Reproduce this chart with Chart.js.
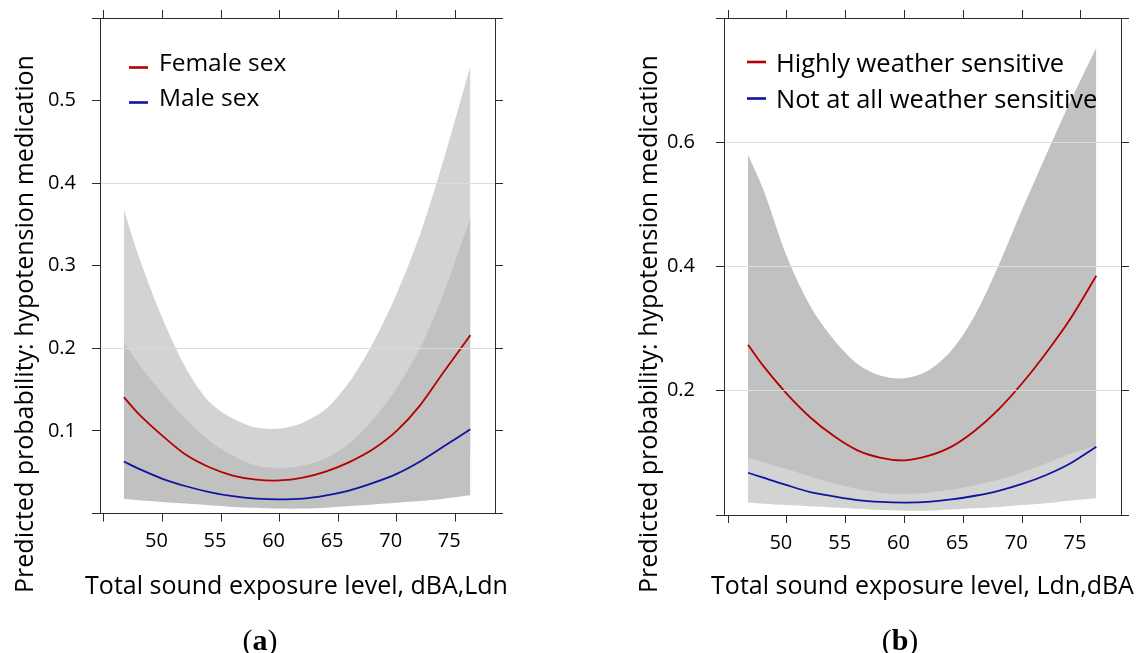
<!DOCTYPE html>
<html><head><meta charset="utf-8">
<script src="https://cdn.jsdelivr.net/npm/chart.js@4.4.1/dist/chart.umd.min.js"></script>
<style>
html,body{margin:0;padding:0;background:#fff;width:1144px;height:653px;overflow:hidden}
.panel{position:absolute;top:0;width:572px;height:653px}
#pa{left:0}#pb{left:572px}
canvas{display:block}
</style></head><body>
<div class="panel" id="pa"><canvas id="ca" width="572" height="653"></canvas></div>
<div class="panel" id="pb"><canvas id="cb" width="572" height="653"></canvas></div>
<script>
// ---- data ----
const exposure = [46.7,48,50,52,54,56,58,60,62,64,66,68,70,72,74,76.3];
const xTicks = [45,50,55,60,65,70,75];
const xTickLabels = ['', '50', '55', '60', '65', '70', '75'];

// panel (a)
const femaleFit   = [0.141,0.120,0.094,0.071,0.056,0.046,0.041,0.040,0.0435,0.051,0.0625,0.078,0.100,0.131,0.171,0.216];
const femaleUpper = [0.368,0.310,0.236,0.176,0.135,0.115,0.104,0.103,0.110,0.127,0.160,0.207,0.266,0.338,0.428,0.542];
const femaleLower = [0.050,0.045,0.038,0.031,0.026,0.022,0.019,0.018,0.019,0.021,0.025,0.030,0.037,0.046,0.057,0.072];
const maleFit     = [0.063,0.054,0.042,0.033,0.026,0.021,0.018,0.017,0.018,0.022,0.028,0.037,0.048,0.063,0.081,0.102];
const maleUpper   = [0.207,0.180,0.145,0.114,0.088,0.070,0.058,0.055,0.058,0.067,0.085,0.114,0.152,0.200,0.266,0.358];
const maleLower   = [0.018,0.016,0.014,0.012,0.010,0.008,0.007,0.006,0.006,0.007,0.009,0.011,0.013,0.015,0.018,0.022];
const yTicksA      = [0,0.1,0.2,0.3,0.4,0.5,0.6];
const yTickLabelsA = ['','0.1','0.2','0.3','0.4','0.5',''];
const yGridA       = [0.2,0.4];

// panel (b)
const highlyFit   = [0.274,0.240,0.195,0.157,0.127,0.104,0.092,0.088,0.095,0.110,0.136,0.170,0.212,0.260,0.313,0.385];
const highlyUpper = [0.580,0.524,0.416,0.336,0.282,0.243,0.224,0.220,0.232,0.265,0.322,0.402,0.492,0.578,0.662,0.752];
const highlyLower = [0.050,0.048,0.045,0.040,0.035,0.030,0.027,0.026,0.027,0.030,0.035,0.042,0.050,0.060,0.072,0.085];
const notFit      = [0.068,0.060,0.048,0.037,0.030,0.024,0.021,0.020,0.021,0.025,0.031,0.039,0.050,0.064,0.082,0.110];
const notUpper    = [0.092,0.085,0.074,0.062,0.051,0.042,0.036,0.034,0.036,0.041,0.048,0.057,0.069,0.083,0.098,0.112];
const notLower    = [0.020,0.018,0.016,0.014,0.012,0.010,0.008,0.007,0.007,0.009,0.011,0.013,0.016,0.019,0.023,0.027];
const yTicksB      = [0,0.2,0.4,0.6,0.8];
const yTickLabelsB = ['','0.2','0.4','0.6',''];
const yGridB       = [0.2,0.4,0.6];

// ---- styling ----
const RED = '#b40000', BLUE = '#10149e', LIGHT = '#d3d3d3', DARK = '#c1c1c1';
const AXIS = '#2b2b2b', GRID = '#dcdcdc';
const FONT = '"Open Sans", Lato, sans-serif';

const pts = arr => exposure.map((x, i) => ({x, y: arr[i]}));
function lineDs(label, arr, color) {
  return {label, data: pts(arr), borderColor: color, borderWidth: 1.8, pointRadius: 0, fill: false, tension: 0.3, order: 0};
}
function bandDs(label, arr, color, target, order) {
  return {label, data: pts(arr), borderColor: 'rgba(0,0,0,0)', borderWidth: 0, pointRadius: 0,
    backgroundColor: color, fill: target === null ? false : {target}, tension: 0.3, order};
}

const overlay = {
  id: 'overlay',
  afterDraw(chart, args, o) {
    const ctx = chart.ctx, ca = chart.chartArea;
    ctx.save();
    ctx.font = o.legendFont; ctx.textBaseline = 'alphabetic'; ctx.textAlign = 'left';
    o.legendItems.forEach((idx, i) => {
      const ds = chart.data.datasets[idx];
      const yb = o.legendY + i * o.legendGap;
      ctx.strokeStyle = ds.borderColor; ctx.lineWidth = 2.6;
      ctx.beginPath(); ctx.moveTo(ca.left + o.dashX, yb - o.dashRise); ctx.lineTo(ca.left + o.dashX + 19, yb - o.dashRise); ctx.stroke();
      ctx.fillStyle = '#000'; ctx.fillText(ds.label, ca.left + o.textX, yb);
    });
    ctx.font = o.titleFont; ctx.fillStyle = '#000'; ctx.textAlign = 'center';
    ctx.fillText(o.xTitle, (ca.left + ca.right) / 2 + o.xTitleShift, o.xTitleY);
    ctx.save(); ctx.translate(o.yTitleX, o.yTitleCY); ctx.rotate(-Math.PI / 2); ctx.fillText(o.yTitle, 0, 0); ctx.restore();
    const bold = 'bold ' + o.capSize + 'px "Liberation Serif", serif';
    const reg = o.capSize + 'px "Liberation Serif", serif';
    ctx.textAlign = 'left';
    ctx.font = reg; const wP = ctx.measureText('(').width;
    ctx.font = bold; const wL = ctx.measureText(o.caption).width;
    let cx = o.capX - (2 * wP + wL) / 2;
    ctx.font = reg; ctx.fillText('(', cx, o.capY); cx += wP;
    ctx.font = bold; ctx.fillText(o.caption, cx, o.capY); cx += wL;
    ctx.font = reg; ctx.fillText(')', cx, o.capY);
    ctx.restore();
  }
};

function noPadV(s){ s.paddingTop = 0; s.paddingBottom = 0; }
function noPadH(s){ s.paddingLeft = 0; s.paddingRight = 0; }
function makeScales(yMax, yTicks, yLabels, yGrid, sizes) {
  const tickFont = {family: FONT, size: 20};
  const border = {color: AXIS, width: 1, z: 2};
  const xBase = {type: 'linear', min: 44.66, max: 78.4,
    afterBuildTicks: s => { s.ticks = xTicks.map(v => ({value: v})); },
    grid: {drawOnChartArea: false, tickLength: 8, tickColor: AXIS, color: AXIS, lineWidth: 1},
    border};
  const yBase = {type: 'linear', min: 0, max: yMax,
    afterBuildTicks: s => { s.ticks = yTicks.map(v => ({value: v})); },
    border};
  return {
    x: Object.assign({}, xBase, {position: 'bottom',
      ticks: {font: tickFont, color: '#000', padding: 8, labelOffset: -6, maxRotation: 0, autoSkip: false, callback: (v, i) => xTickLabels[i]},
      afterFit: s => { s.height = sizes.bottom; noPadH(s); }}),
    xTop: Object.assign({}, xBase, {position: 'top', ticks: {display: false},
      afterFit: s => { s.height = sizes.top; noPadH(s); }}),
    y: Object.assign({}, yBase, {position: 'left',
      ticks: {font: tickFont, color: '#000', padding: sizes.yPad, autoSkip: false, callback: (v, i) => yLabels[i]},
      grid: {z: 1, drawOnChartArea: true, tickLength: 8, tickColor: AXIS, lineWidth: 1,
        color: c => (c.tick && yGrid.some(g => Math.abs(g - c.tick.value) < 1e-9)) ? GRID : 'rgba(0,0,0,0)'},
      afterFit: s => { s.width = sizes.left; noPadV(s); }}),
    yRight: Object.assign({}, yBase, {position: 'right', ticks: {display: false},
      grid: {drawOnChartArea: false, tickLength: 8, tickColor: AXIS, color: AXIS, lineWidth: 1},
      afterFit: s => { s.width = sizes.right; noPadV(s); }})
  };
}

function draw() {
  Chart.defaults.font.family = FONT;
  new Chart(document.getElementById('ca'), {
    type: 'line',
    data: {datasets: [
      lineDs('Female sex', femaleFit, RED), lineDs('Male sex', maleFit, BLUE),
      bandDs('Male sex CI upper', maleUpper, DARK, 3, 1), bandDs('Male sex CI lower', maleLower, DARK, null, 1),
      bandDs('Female sex CI upper', femaleUpper, LIGHT, 5, 2), bandDs('Female sex CI lower', femaleLower, LIGHT, null, 2)]},
    options: {responsive: false, animation: false, events: [], devicePixelRatio: 1, layout: {padding: 0},
      scales: makeScales(0.6, yTicksA, yTickLabelsA, yGridA, {left: 100, right: 77, top: 18, bottom: 139.5, yPad: 16}),
      plugins: {legend: {display: false}, tooltip: {enabled: false},
        overlay: {legendItems: [0, 1], legendFont: '24.5px ' + FONT, legendY: 71, legendGap: 35, dashX: 29, dashRise: 3.5, textX: 59,
          titleFont: '25px ' + FONT, xTitle: 'Total sound exposure level, dBA,Ldn', xTitleShift: -1, xTitleY: 594,
          yTitle: 'Predicted probability: hypotension medication', yTitleX: 33, yTitleCY: 324,
          caption: 'a', capSize: 30, capX: 260, capY: 650}}},
    plugins: [overlay]});
  new Chart(document.getElementById('cb'), {
    type: 'line',
    data: {datasets: [
      lineDs('Highly weather sensitive', highlyFit, RED), lineDs('Not at all weather sensitive', notFit, BLUE),
      bandDs('Not at all CI upper', notUpper, LIGHT, 3, 1), bandDs('Not at all CI lower', notLower, LIGHT, null, 1),
      bandDs('Highly CI upper', highlyUpper, DARK, 5, 2), bandDs('Highly CI lower', highlyLower, DARK, null, 2)]},
    options: {responsive: false, animation: false, events: [], devicePixelRatio: 1, layout: {padding: 0},
      scales: makeScales(0.8, yTicksB, yTickLabelsB, yGridB, {left: 152, right: 23, top: 18, bottom: 138, yPad: 21}),
      plugins: {legend: {display: false}, tooltip: {enabled: false},
        overlay: {legendItems: [0, 1], legendFont: '25.5px ' + FONT, legendY: 71.5, legendGap: 36.5, dashX: 23, dashRise: 9.5, textX: 52,
          titleFont: '25px ' + FONT, xTitle: 'Total sound exposure level, Ldn,dBA', xTitleShift: 0, xTitleY: 594,
          yTitle: 'Predicted probability: hypotension medication', yTitleX: 85, yTitleCY: 324,
          caption: 'b', capSize: 30, capX: 328, capY: 650}}},
    plugins: [overlay]});
}
Promise.all([document.fonts.load('20px "Open Sans"'), document.fonts.load('25px "Open Sans"'),
  document.fonts.load('bold 30px "Liberation Serif"'), document.fonts.load('30px "Liberation Serif"')]).then(draw, draw);
</script>
</body></html>
